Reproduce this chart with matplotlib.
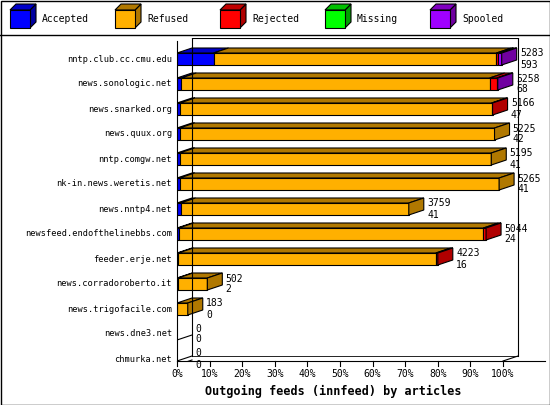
import matplotlib
matplotlib.use("Agg")
import matplotlib.pyplot as plt
from matplotlib.patches import Polygon, Rectangle

hosts = ["nntp.club.cc.cmu.edu", "news.sonologic.net", "news.snarked.org", "news.quux.org",
         "nntp.comgw.net", "nk-in.news.weretis.net", "news.nntp4.net", "newsfeed.endofthelinebbs.com",
         "feeder.erje.net", "news.corradoroberto.it", "news.trigofacile.com", "news.dne3.net", "chmurka.net"]
offered = [5283, 5258, 5166, 5225, 5195, 5265, 3759, 5044, 4223, 502, 183, 0, 0]
accepted_n = [593, 68, 47, 42, 41, 41, 41, 24, 16, 2, 0, 0, 0]
# percentages
accepted = [11.2, 1.3, 0.9, 0.8, 0.8, 0.8, 1.1, 0.5, 0.4, 0.3, 0.0, 0, 0]
refused = [86.8, 94.6, 95.6, 96.6, 95.6, 98.0, 70.0, 93.5, 79.0, 9.0, 3.3, 0, 0]
rejected = [0.6, 2.2, 0.3, 0.0, 0.0, 0.0, 0.0, 0.8, 0.6, 0.0, 0.0, 0, 0]
missing = [0.0] * 13
spooled = [1.0, 0.3, 0.0, 0.0, 0.0, 0.0, 0.0, 0.0, 0.0, 0.0, 0.0, 0, 0]
series = ["Accepted", "Refused", "Rejected", "Missing", "Spooled"]
front = ["#0000FF", "#FFB000", "#FF0000", "#00FF00", "#A000FF"]
side = ["#0000A0", "#B07800", "#B00000", "#00A000", "#7000A0"]
top = ["#0000C8", "#B07800", "#C00000", "#00C000", "#8000C0"]

plt.rcParams['font.family'] = ['DejaVu Sans Mono']
W, H = 550, 405
fig = plt.figure(figsize=(5.5, 4.05), dpi=100)
fig.patches.append(Rectangle((0.5/W, 0.5/H), 1-1/W, 1-1/H, transform=fig.transFigure,
                             fill=False, ec="black", lw=1))
fig.lines.append(plt.Line2D([0, 1], [1-35/H, 1-35/H], transform=fig.transFigure, color="black", lw=1))

# legend
for k, name in enumerate(series):
    x0 = (10 + 105*k)/W
    y0 = 1 - 28/H
    w, h, d = 20/W, 18/H, 6
    fig.patches.append(Polygon([(x0+w, y0), (x0+w+d/W, y0+d/H), (x0+w+d/W, y0+h+d/H), (x0+w, y0+h)],
                               closed=True, transform=fig.transFigure, fc=side[k], ec="black", lw=0.8))
    fig.patches.append(Polygon([(x0, y0+h), (x0+w, y0+h), (x0+w+d/W, y0+h+d/H), (x0+d/W, y0+h+d/H)],
                               closed=True, transform=fig.transFigure, fc=top[k], ec="black", lw=0.8))
    fig.patches.append(Rectangle((x0, y0), w, h, transform=fig.transFigure, fc=front[k], ec="black", lw=0.8))
    fig.text(x0 + 32/W, 1 - 19/H, name, fontsize=7, va="center", ha="left")

# main axes: 0% at px177, 3.26 px per %, rows at 59+25i
xl, xr = 177, 545
yt, yb = 38, 361
ax = fig.add_axes([xl/W, 1-yb/H, (xr-xl)/W, (yb-yt)/H])
xmax = (xr-xl)/3.26
ax.set_xlim(0, xmax)
ax.set_ylim((yb-59)/25, (yt-59)/25)
for s in ax.spines.values():
    s.set_visible(False)
ax.set_yticks([])
ax.set_xticks([])

dx, dy = 15/3.26, 5/25
bh = 12/25
ytop = (yt-59)/25
ax.plot([dx, dx], [ytop, 12.08-dy], color="black", lw=0.8)
ax.plot([100+dx, 100+dx], [ytop, 12.08-dy], color="black", lw=0.8)
ax.plot([0, 0], [ytop+0.1, 12.08], color="black", lw=0.8, clip_on=False)
ax.plot([0, xmax], [12.08, 12.08], color="black", lw=0.8, clip_on=False)
ax.plot([dx, 100+dx], [12.08-dy, 12.08-dy], color="black", lw=0.6)
ax.plot([100, 100+dx], [12.08, 12.08-dy], color="black", lw=0.8)
ax.plot([0, dx], [12.08, 12.08-dy], color="black", lw=0.8)
ax.plot([dx, 100+dx], [ytop, ytop], color="black", lw=0.8)
for t in range(0, 101, 10):
    ax.plot([t, t], [12.08, 12.28], color="black", lw=0.8, clip_on=False)
    ax.text(t, 12.6, f"{t}%", fontsize=7, ha="center", va="center")
ax.text(48, 13.3, "Outgoing feeds (innfeed) by articles", fontsize=8.5, fontweight="bold",
        ha="center", va="center")

vals = list(zip(accepted, refused, rejected, missing, spooled))
for i, h in enumerate(hosts):
    ax.text(-1.5, i, h, fontsize=6.2, ha="right", va="center")
    y1, y0 = i - bh/2, i + bh/2
    left = 0.0
    segs = [(k, v) for k, v in enumerate(vals[i]) if v > 0]
    for k, v in segs:
        ax.add_patch(Polygon([(left, y0), (left+v, y0), (left+v, y1), (left, y1)],
                             closed=True, fc=front[k], ec="black", lw=0.8))
        ax.add_patch(Polygon([(left, y1), (left+v, y1), (left+v+dx, y1-dy), (left+dx, y1-dy)],
                             closed=True, fc=top[k], ec="black", lw=0.8))
        left += v
    if segs:
        k = segs[-1][0]
        ax.add_patch(Polygon([(left, y0), (left+dx, y0-dy), (left+dx, y1-dy), (left, y1)],
                             closed=True, fc=side[k], ec="black", lw=0.8))
    else:
        ax.plot([0, dx], [y0, y0-dy], color="black", lw=0.8)
    ax.text(left+dx+1, i-0.22, str(offered[i]), fontsize=7, ha="left", va="center")
    ax.text(left+dx+1, i+0.22, str(accepted_n[i]), fontsize=7, ha="left", va="center")

fig.savefig("out.png", dpi=100)
